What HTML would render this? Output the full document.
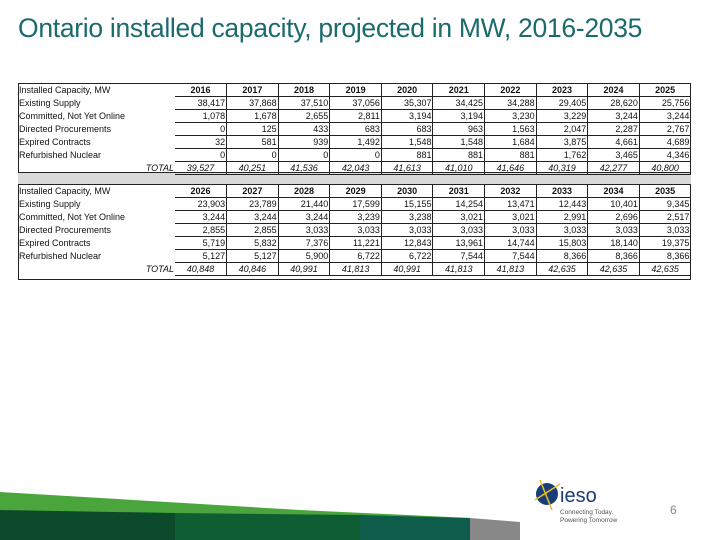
<!DOCTYPE html>
<html><head><meta charset="utf-8">
<style>
body{margin:0;width:720px;height:540px;background:#fff;position:relative;overflow:hidden;font-family:"Liberation Sans",sans-serif;}
#title{position:absolute;left:18px;top:13px;font-size:26.5px;color:#1b6a6e;white-space:nowrap;letter-spacing:-0.3px}
table{position:absolute;left:18px;width:673px;border-collapse:collapse;font-size:9px;color:#111;table-layout:fixed}
td{height:12px;padding:0 1px;line-height:12px;white-space:nowrap;overflow:hidden;box-sizing:border-box}
td.l{text-align:left}
td.v{text-align:right;border-bottom:1px solid #222;border-right:1px solid #222}
tr.h td.v{text-align:center;font-weight:bold}
tr.t td.v{font-style:italic;text-align:center}
tr.t td.l{text-align:right;font-style:italic}
#wrap{position:absolute;left:18px;top:83px;width:673px;height:197px;border:1px solid #222;box-sizing:border-box}
#gray{position:absolute;left:18px;top:172px;width:673px;height:13px;background:#d9d9d9;border-top:1px solid #222;border-bottom:1px solid #222;box-sizing:border-box}
</style></head><body>
<div id="title">Ontario installed capacity, projected in MW, 2016-2035</div>
<div id="wrap"></div>
<div id="gray"></div>
<table id="t1" style="top:84px"></table>
<table id="t2" style="top:185px"></table>
<svg style="position:absolute;left:0;top:470px" width="720" height="70">
<polygon points="0,22 300,40 470,48 470,70 0,70" fill="#4aa63c"/>
<polygon points="0,40 175,43 175,70 0,70" fill="#0b4a2a"/>
<polygon points="175,43 360,45 360,70 175,70" fill="#0f5e33"/>
<polygon points="360,45 470,48 470,70 360,70" fill="#0e5c4a"/>
<polygon points="470,48 520,52 520,70 470,70" fill="#888"/>
<circle cx="547" cy="24" r="11" fill="#1a3d7a"/>
<line x1="535" y1="30" x2="560" y2="14" stroke="#e8c020" stroke-width="1.5"/>
<line x1="540" y1="10" x2="552" y2="40" stroke="#e8c020" stroke-width="1.5"/>
<text x="560" y="32" font-size="20" fill="#1a3d7a" font-family="Liberation Sans">ieso</text>
<text x="560" y="44" font-size="6.5" fill="#555">Connecting Today.</text>
<text x="560" y="52" font-size="6.5" fill="#555">Powering Tomorrow</text>
<text x="670" y="44" font-size="12" fill="#888">6</text>
</svg>
<script>
const rowLabels=["Existing Supply","Committed, Not Yet Online","Directed Procurements","Expired Contracts","Refurbished Nuclear"];
const years1=["2016","2017","2018","2019","2020","2021","2022","2023","2024","2025"];
const years2=["2026","2027","2028","2029","2030","2031","2032","2033","2034","2035"];
const data1=[["38,417","37,868","37,510","37,056","35,307","34,425","34,288","29,405","28,620","25,756"],
["1,078","1,678","2,655","2,811","3,194","3,194","3,230","3,229","3,244","3,244"],
["0","125","433","683","683","963","1,563","2,047","2,287","2,767"],
["32","581","939","1,492","1,548","1,548","1,684","3,875","4,661","4,689"],
["0","0","0","0","881","881","881","1,762","3,465","4,346"]];
const total1=["39,527","40,251","41,536","42,043","41,613","41,010","41,646","40,319","42,277","40,800"];
const data2=[["23,903","23,789","21,440","17,599","15,155","14,254","13,471","12,443","10,401","9,345"],
["3,244","3,244","3,244","3,239","3,238","3,021","3,021","2,991","2,696","2,517"],
["2,855","2,855","3,033","3,033","3,033","3,033","3,033","3,033","3,033","3,033"],
["5,719","5,832","7,376","11,221","12,843","13,961","14,744","15,803","18,140","19,375"],
["5,127","5,127","5,900","6,722","6,722","7,544","7,544","8,366","8,366","8,366"]];
const total2=["40,848","40,846","40,991","41,813","40,991","41,813","41,813","42,635","42,635","42,635"];
function build(id,years,data,total){
 const t=document.getElementById(id);
 const cg=document.createElement('colgroup');
 const c0=document.createElement('col');c0.style.width='157px';cg.appendChild(c0);
 for(let i=0;i<10;i++){const c=document.createElement('col');c.style.width='51.6px';cg.appendChild(c);}
 t.appendChild(cg);
 function row(cls,label,vals){
  const tr=document.createElement('tr');tr.className=cls;
  
  
  const l=document.createElement('td');l.className='l';l.textContent=label;
  
  
  tr.appendChild(l);
  vals.forEach(v=>{const d=document.createElement('td');d.className='v';d.textContent=v;
   
   
   tr.appendChild(d);});
  t.appendChild(tr);
 }
 row('h','Installed Capacity, MW',years);
 data.forEach((r,i)=>row('d',rowLabels[i],r));
 row('t','TOTAL',total);
}
build('t1',years1,data1,total1);
build('t2',years2,data2,total2);
</script>
</body></html>
